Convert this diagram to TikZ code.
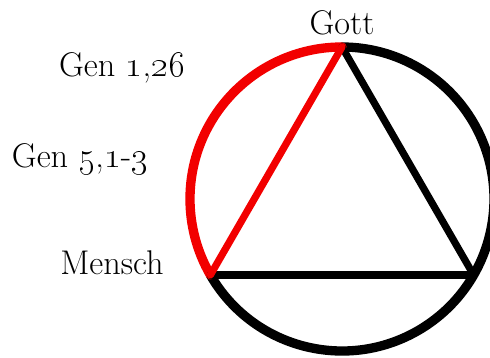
\documentclass[tikz,border=0pt]{standalone}
\usepackage{tikz}
\usetikzlibrary{calc}

\begin{document}
\begin{tikzpicture}[
  line cap=round, line join=round,
  ring/.style={line width=5.3pt, draw=black},
  redring/.style={ring, draw=red!95!black},
  edge/.style={line width=4.1pt, draw=black},
  rededge/.style={edge, draw=red!95!black},
  lbl/.style={font=\fontsize{19.5}{22}\selectfont, anchor=base, inner sep=0pt}
]
  \useasboundingbox (0,0) rectangle (9.8,7.16);

  % --- Circle and triangle corners ---
  \coordinate (ctr) at (6.84,3.18);
  \coordinate (gott) at ($(ctr)+(90:3.04)$);
  \coordinate (mensch) at ($(ctr)+(210:3.04)$);
  \coordinate (rechts) at ($(ctr)+(330:3.04)$);

  % --- Circle: red arc on the left, black for the rest ---
  \draw[ring] (mensch) arc[start angle=210, end angle=450, radius=3.04];
  \draw[redring] (gott) arc[start angle=90, end angle=210, radius=3.04];

  % --- Triangle ---
  \draw[edge] (gott) -- (rechts);
  \draw[edge] (mensch) -- (rechts);
  \draw[rededge] (gott) -- (mensch);

  % --- Labels ---
  \node[lbl] (tGott) at (6.84,6.46) {Gott};
  \node[lbl] (tGenA) at (2.44,5.62) {Gen \oldstylenums{1},\oldstylenums{26}};
  \node[lbl] (tGenB) at (1.60,3.80) {Gen \oldstylenums{5},\oldstylenums{1}-\oldstylenums{3}};
  \node[lbl] (tMensch) at (2.24,1.66) {Mensch};
\end{tikzpicture}
\end{document}
